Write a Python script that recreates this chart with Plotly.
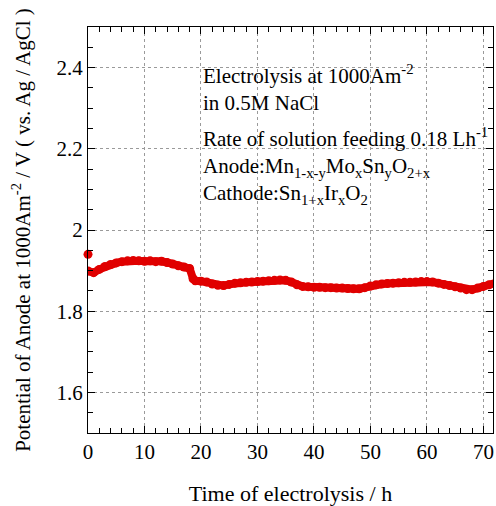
import plotly.graph_objects as go

# ---- data ----
initial_time_h = [0.0]
initial_potential_V = [1.940]

time_h = [0, 1, 2, 3, 4, 5, 6, 7, 8, 9, 10, 11, 12, 13, 14, 15, 16, 17, 18, 18.6,
          19, 20, 21, 22, 23, 24, 25, 26, 27, 28, 29, 30, 31, 32, 33, 34, 35, 36,
          37, 38, 39, 40, 41, 42, 43, 44, 45, 46, 47, 48, 49, 50, 51, 52, 53, 54,
          55, 56, 57, 58, 59, 60, 61, 62, 63, 64, 65, 66, 67, 68, 69, 70, 71, 72]
potential_V = [1.899, 1.895, 1.903, 1.910, 1.915, 1.919, 1.922, 1.924, 1.925, 1.924,
               1.923, 1.924, 1.922, 1.923, 1.920, 1.916, 1.912, 1.909, 1.905, 1.880,
               1.875, 1.874, 1.872, 1.867, 1.864, 1.863, 1.866, 1.869, 1.870, 1.871,
               1.872, 1.873, 1.874, 1.875, 1.876, 1.877, 1.876, 1.872, 1.865, 1.861,
               1.860, 1.859, 1.859, 1.858, 1.858, 1.857, 1.857, 1.856, 1.855, 1.855,
               1.858, 1.862, 1.865, 1.867, 1.868, 1.869, 1.870, 1.871, 1.871, 1.872,
               1.873, 1.873, 1.872, 1.869, 1.866, 1.863, 1.860, 1.857, 1.853, 1.853,
               1.857, 1.861, 1.865, 1.869]

x_ticks = [0, 10, 20, 30, 40, 50, 60, 70]
y_ticks = [1.6, 1.8, 2.0, 2.2, 2.4]

info_block_1 = ["Electrolysis at 1000Am<sup>-2</sup>", "in 0.5M NaCl"]
info_block_2 = [
    "Rate of solution feeding 0.18 Lh<sup>-1</sup>",
    "Anode:Mn<sub>1-x-y</sub>Mo<sub>x</sub>Sn<sub>y</sub>O<sub>2+x</sub>",
    "Cathode:Sn<sub>1+x</sub>Ir<sub>x</sub>O<sub>2</sub>",
]

RED = "#e00000"
FONT = "Liberation Serif"

fig = go.Figure()
fig.add_trace(go.Scatter(
    x=time_h, y=potential_V, mode="lines+markers",
    line=dict(color=RED, width=8),
    marker=dict(color=RED, size=9),
    showlegend=False,
))
fig.add_trace(go.Scatter(
    x=initial_time_h, y=initial_potential_V, mode="markers",
    marker=dict(color=RED, size=9), cliponaxis=False,
    showlegend=False,
))

W, H = 496, 506
L, R, T, B = 88, 3, 27, 73
ph = H - T - B
pw = W - L - R

for lines, ypx in ((info_block_1, 88), (info_block_2, 166)):
    fig.add_annotation(
        text="<br>".join(lines), xref="paper", yref="paper",
        x=(201 - L) / pw, y=1 - (ypx - T) / ph,
        xanchor="left", yanchor="middle", showarrow=False, align="left",
        font=dict(family=FONT, size=21, color="black"),
    )

axis_common = dict(
    showline=True, linecolor="black", linewidth=1, mirror="ticks",
    ticks="inside", ticklen=7, tickcolor="black",
    showgrid=True, gridcolor="#9a9a9a", griddash="dot", gridwidth=1,
    zeroline=False,
    tickfont=dict(family=FONT, size=21, color="black"),
)

fig.update_xaxes(
    range=[0, 71.7], tickmode="array", tickvals=x_ticks,
    minor=dict(dtick=2, ticks="inside", ticklen=5, tickcolor="black", showgrid=False),
    title=dict(text="Time of electrolysis / h", standoff=22,
               font=dict(family=FONT, size=22, color="black")),
    **axis_common,
)
fig.update_yaxes(
    range=[1.5, 2.5], tickmode="array", tickvals=y_ticks,
    minor=dict(dtick=0.05, ticks="inside", ticklen=5, tickcolor="black", showgrid=False),
    title=dict(text="Potential of Anode at 1000Am<sup>-2</sup> / V ( vs. Ag / AgCl )",
               standoff=20, font=dict(family=FONT, size=21, color="black")),
    **axis_common,
)

fig.update_layout(
    width=W, height=H,
    margin=dict(l=L, r=R, t=T, b=B, autoexpand=False),
    paper_bgcolor="white", plot_bgcolor="white",
    font=dict(family=FONT, color="black"),
)

fig.write_html("out.html")
